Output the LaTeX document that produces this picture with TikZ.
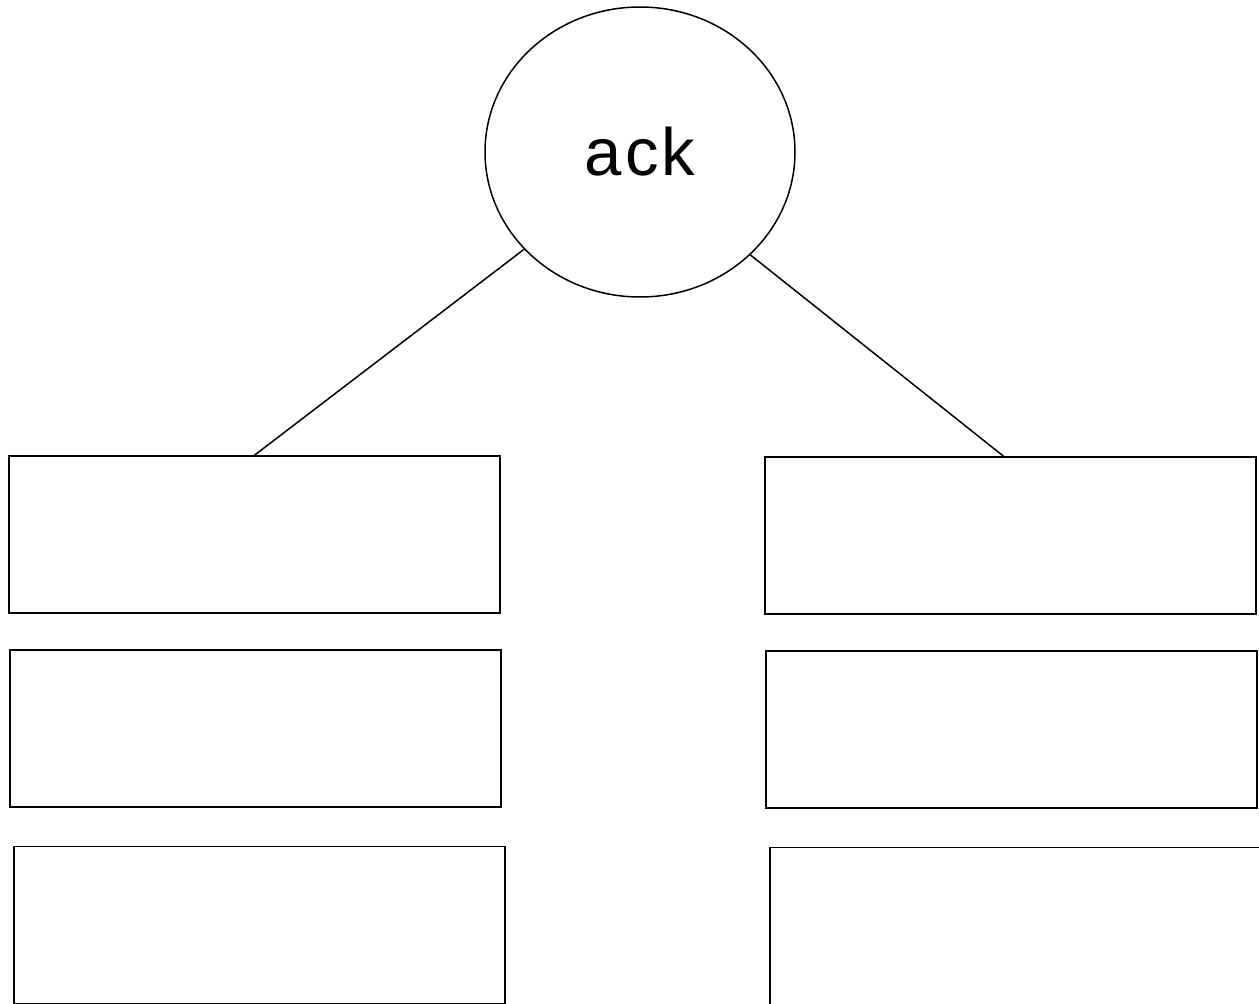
\documentclass[tikz,border=0pt]{standalone}
\usepackage{fontspec}
\setmainfont{Liberation Sans}
\usetikzlibrary{shapes.geometric}
\begin{document}
\begin{tikzpicture}[x=1pt,y=-1pt,
  box/.style={draw,line width=1.6pt,rectangle,inner sep=0pt,minimum width=491pt,minimum height=157pt},
  link/.style={draw,line width=1.5pt}]
\useasboundingbox (0,0) rectangle (1259,1004);
\fill[white] (0,0) rectangle (1259,1004);
\node[draw,ellipse,line width=1.5pt,minimum width=310pt,minimum height=290pt,inner sep=0pt,
  font=\fontsize{67}{70}\selectfont] (e) at (640,152) {a\kern3pt c\kern3pt k};
\node[box] (b1) at (254.5,534.5) {};
\node[box] (b2) at (255.5,728.5) {};
\node[box] (b3) at (259.5,925) {};
\node[box] (b4) at (1010.5,535.5) {};
\node[box] (b5) at (1011.5,729.5) {};
\node[box] (b6) at (1015.5,926) {};
\coordinate (t4) at ([xshift=-7pt]b4.north);
\draw[link] (e.220.8) -- (b1.north);
\draw[link] (e.317.3) -- (t4);
\end{tikzpicture}
\end{document}
